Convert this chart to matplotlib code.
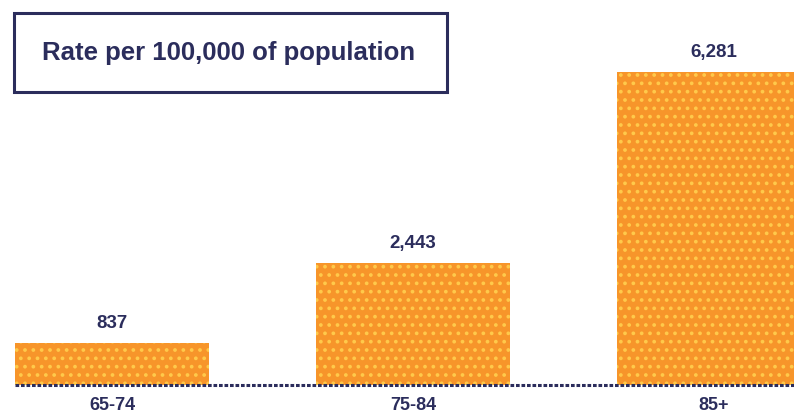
import matplotlib
matplotlib.use("Agg")
import matplotlib.pyplot as plt
from matplotlib.patches import Rectangle

# Data
age_groups = ["65-74", "75-84", "85+"]
rates = [837, 2443, 6281]
rate_labels = ["837", "2,443", "6,281"]
title_text = "Rate per 100,000 of population"

navy = "#2b2d5c"
orange = "#F7952A"
dot_yellow = "#FFC94A"

plt.rcParams["font.family"] = ["Liberation Sans", "DejaVu Sans"]
plt.rcParams["hatch.linewidth"] = 1.5

W, H = 794, 416
fig = plt.figure(figsize=(W / 100, H / 100), dpi=100)
fig.patch.set_facecolor("white")

base_px = 31
ax = fig.add_axes([0, base_px / H, 1, 1 - base_px / H])
ax.set_facecolor("white")

x = list(range(len(age_groups)))
bar_w = 0.645
bars = ax.bar(x, rates, width=bar_w, color=orange, edgecolor=dot_yellow,
              hatch="..", linewidth=0, zorder=2)

ax.set_xlim(-0.372, 2.266)
ax.set_ylim(0, 7726)

# dotted baseline
ax.plot([-bar_w / 2, 2.5], [0, 0], color=navy, lw=2.2,
        linestyle=(0, (1.2, 0.6)), clip_on=False, zorder=3)

for xi, v, lab in zip(x, rates, rate_labels):
    ax.annotate(lab, (xi, v), xytext=(0, 8), textcoords="offset points",
                ha="center", va="bottom", fontsize=13.5, fontweight="bold",
                color=navy)

for xi, lab in zip(x, age_groups):
    ax.annotate(lab, (xi, 0), xytext=(0, -15), textcoords="offset points",
                ha="center", va="center", fontsize=13, fontweight="bold",
                color=navy, annotation_clip=False)

for s in ax.spines.values():
    s.set_visible(False)
ax.set_xticks([])
ax.set_yticks([])

# boxed title
box = Rectangle((14 / W, 1 - 92 / H), (447 - 14) / W, (92 - 13) / H,
                transform=fig.transFigure, facecolor="white",
                edgecolor=navy, linewidth=2.2, zorder=5)
fig.add_artist(box)
fig.text(229 / W, 1 - 53 / H, title_text, ha="center", va="center",
         fontsize=18.5, fontweight="bold", color=navy, zorder=6)

fig.savefig("out.png", dpi=100)
